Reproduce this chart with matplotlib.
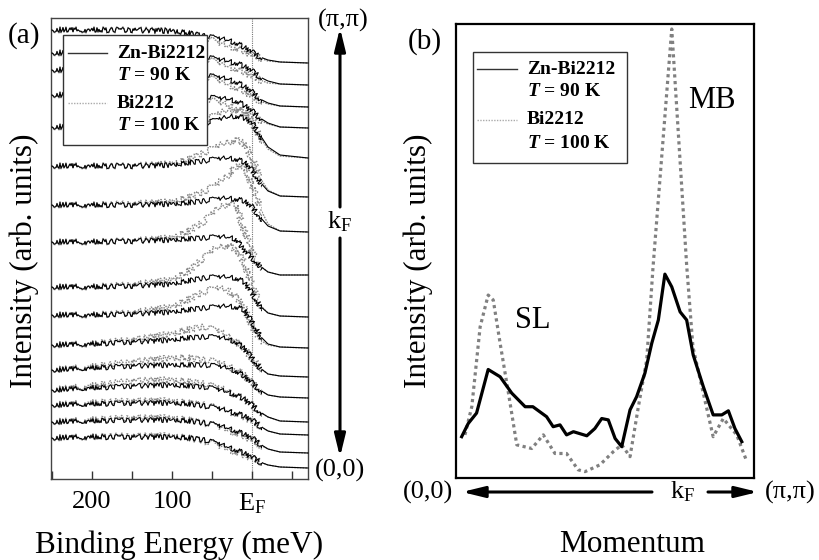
import matplotlib
matplotlib.use("Agg")
import matplotlib.pyplot as plt
from matplotlib.patches import Rectangle, FancyArrowPatch
import numpy as np

plt.rcParams['font.family'] = ['Liberation Serif', 'DejaVu Serif']
plt.rcParams['mathtext.fontset'] = 'custom'
plt.rcParams['mathtext.rm'] = 'Liberation Serif'
plt.rcParams['mathtext.it'] = 'Liberation Serif:italic:bold'
plt.rcParams['mathtext.bf'] = 'Liberation Serif:bold'

# ---------------- data: panel (a) EDCs ----------------
energy = [250, 200, 150, 100, 80, 60, 45, 30, 20, 10, 0, -10, -20, -35, -70]
edc_offsets = [416, 394, 372, 351, 321, 282, 247, 204, 162, 131, 102, 81, 57, 44, 26, 11]
edc_zn = [
    [33, 33, 33, 32, 30, 27, 25, 23, 20, 16, 11, 6, 3, 1, 0],
    [32, 32, 32, 31, 30, 28, 26, 24, 22, 19, 14, 8, 4, 1, 0],
    [37, 37, 36, 35, 34, 32, 30, 28, 25, 21, 15, 8, 4, 1, 0],
    [33, 33, 33, 33, 32, 31, 30, 29, 27, 23, 17, 10, 5, 1, 0],
    [31, 31, 31, 31, 32, 34, 38, 41, 42, 40, 35, 23, 11, 3, 0],
    [31, 31, 31, 32, 34, 36, 38, 39, 38, 35, 27, 15, 6, 1, 0],
    [27, 27, 27, 28, 29, 31, 33, 34, 33, 31, 25, 15, 6, 1, 0],
    [33, 33, 34, 35, 36, 37, 38, 38, 36, 25, 17, 9, 3, 0, 0],
    [30, 30, 31, 33, 36, 39, 40, 40, 39, 35, 24, 11, 4, 1, 0],
    [33, 33, 34, 36, 38, 40, 41, 42, 41, 38, 26, 12, 4, 1, 0],
    [32, 33, 35, 37, 39, 40, 40, 38, 35, 29, 19, 9, 3, 1, 0],
    [28, 30, 32, 33, 33, 33, 32, 30, 27, 22, 15, 8, 3, 1, 0],
    [32, 34, 36, 37, 36, 35, 33, 30, 27, 23, 17, 10, 5, 1, 0],
    [30, 31, 32, 32, 31, 29, 27, 24, 22, 19, 15, 9, 4, 1, 0],
    [31, 32, 33, 33, 32, 30, 28, 25, 22, 19, 15, 9, 4, 1, 0],
    [30, 31, 31, 31, 30, 28, 25, 21, 18, 15, 11, 6, 3, 1, 0],
]
edc_bi = [
    [33, 33, 33, 32, 29, 25, 21, 17, 15, 12, 8, 5, 2, 1, 0],
    [32, 32, 32, 31, 29, 26, 23, 19, 16, 13, 9, 5, 2, 1, 0],
    [37, 37, 36, 35, 33, 30, 27, 23, 19, 16, 11, 6, 3, 1, 0],
    [33, 33, 33, 33, 31, 29, 26, 23, 20, 17, 13, 8, 4, 1, 0],
    [31, 31, 31, 31, 33, 37, 43, 48, 48, 45, 36, 21, 9, 2, 0],
    [31, 31, 31, 33, 37, 44, 50, 55, 57, 54, 39, 19, 7, 1, 0],
    [27, 27, 28, 30, 34, 40, 47, 57, 65, 67, 47, 24, 8, 1, 0],
    [33, 33, 34, 37, 43, 53, 65, 72, 70, 45, 23, 9, 3, 0, 0],
    [30, 30, 32, 37, 45, 59, 69, 72, 67, 55, 32, 12, 4, 1, 0],
    [33, 33, 35, 41, 48, 56, 60, 58, 51, 41, 22, 8, 3, 1, 0],
    [32, 33, 37, 43, 47, 50, 47, 41, 35, 28, 19, 9, 3, 1, 0],
    [28, 31, 36, 40, 40, 38, 36, 32, 28, 23, 15, 8, 3, 1, 0],
    [32, 36, 41, 42, 40, 38, 35, 31, 27, 23, 17, 10, 5, 1, 0],
    [30, 32, 34, 34, 32, 30, 27, 24, 21, 18, 14, 9, 4, 1, 0],
    [31, 33, 35, 35, 33, 30, 27, 23, 20, 17, 13, 8, 4, 1, 0],
    [30, 31, 32, 32, 30, 27, 23, 19, 16, 13, 10, 6, 3, 1, 0],
]
be_ticks = [250, 200, 150, 100, 50, 0, -50]
be_ticklabels = ['', '200', '', '100', '', r'$\mathrm{E_F}$', '']

# ---------------- data: panel (b) MDCs ----------------
momentum_zn = [0.019, 0.041, 0.069, 0.108, 0.148, 0.187, 0.232, 0.258, 0.304, 0.326,
               0.349, 0.371, 0.394, 0.439, 0.466, 0.489, 0.511, 0.534, 0.556, 0.584,
               0.606, 0.634, 0.657, 0.679, 0.701, 0.724, 0.752, 0.774, 0.796, 0.830,
               0.863, 0.892, 0.914, 0.936, 0.959]
intensity_zn = [9.1, 12.0, 14.3, 23.9, 22.3, 18.7, 15.7, 15.7, 13.5, 11.3,
                11.7, 9.5, 10.2, 9.3, 10.9, 13.1, 12.8, 8.7, 6.9, 15.0,
                17.9, 23.1, 29.7, 34.8, 44.9, 42.1, 36.6, 34.8, 27.1, 20.1,
                13.9, 13.9, 14.8, 10.9, 8.0]
momentum_bi = [0.030, 0.053, 0.081, 0.108, 0.125, 0.148, 0.176, 0.204, 0.254, 0.293,
               0.332, 0.371, 0.410, 0.433, 0.483, 0.528, 0.556, 0.584, 0.612, 0.640,
               0.661, 0.724, 0.774, 0.795, 0.825, 0.863, 0.897, 0.942, 0.976]
intensity_bi = [9.5, 15.7, 33.3, 40.3, 39.2, 29.7, 18.7, 7.3, 6.5, 9.5,
                5.4, 5.4, 1.8, 1.4, 2.9, 5.8, 7.3, 4.7, 15.7, 26.0,
                46.3, 98.9, 46.9, 28.9, 20.1, 9.1, 13.1, 9.5, 3.6]

legend_labels = ['Zn-Bi2212', r'$T$ = 90 K', 'Bi2212', r'$T$ = 100 K']

# ---------------- figure ----------------
W, H = 820, 560
fig = plt.figure(figsize=(W / 100, H / 100), dpi=100)


def fx(x):
    return x / W


def fy(y):
    return 1 - y / H


def rect(x0, y0, x1, y1):
    return [fx(x0), fy(y1), fx(x1) - fx(x0), fy(y0) - fy(y1)]


GREY = '#8a8a8a'

# ----- panel (a) -----
axa = fig.add_axes(rect(51, 18, 308, 479))
axa.set_xlim(251.25, -70)
axa.set_ylim(0, 461)
axa.axvline(0, color='#777777', lw=0.8, ls=(0, (1, 1)), zorder=1)

E = np.array(energy)
for off, zn, bi in zip(edc_offsets, edc_zn, edc_bi):
    for vals, col, ls, lw, z, sk in ((bi, GREY, (0, (1.2, 0.8)), 1.0, 2, 3.2),
                                     (zn, 'black', '-', 0.8, 3, 2.5)):
        y = off + np.array(vals)
        for noisy in (True, False):
            ln, = axa.plot(E, y, color=col, ls=ls, lw=lw, zorder=z)
            if noisy:
                clip = Rectangle((-12, -20), 300, 520, transform=axa.transData)
                ln.set_sketch_params(scale=sk, length=0.6, randomness=40)
            else:
                clip = Rectangle((-90, -20), 78, 520, transform=axa.transData)
            ln.set_clip_path(clip)

axa.set_xticks(be_ticks)
axa.set_xticklabels(be_ticklabels)
axa.set_yticks([])
axa.tick_params(axis='x', direction='in', length=6, width=1, labelsize=19, pad=9,
                color='#333333')
for s in axa.spines.values():
    s.set_color('#444444')
    s.set_linewidth(1.0)

# ----- panel (b) -----
axb = fig.add_axes(rect(456, 24, 754, 478))
axb.set_xlim(0, 1)
axb.set_ylim(0, 100)
axb.plot(momentum_bi, intensity_bi, color='#808080', lw=2.3, ls=(0, (1, 1.1)),
         dash_capstyle='butt', zorder=2, clip_on=False)
axb.plot(momentum_zn, intensity_zn, color='black', lw=2.3, zorder=3,
         solid_joinstyle='round')
axb.set_xticks([])
axb.set_yticks([])
for s in axb.spines.values():
    s.set_color('black')
    s.set_linewidth(1.6)


# ----- legends (drawn manually) -----
def legend(x0, y0, x1, y1, line_x, text_x, rows):
    fig.patches.append(Rectangle((fx(x0), fy(y1)), fx(x1) - fx(x0), fy(y0) - fy(y1),
                                 transform=fig.transFigure, facecolor='white',
                                 edgecolor='#333333', lw=1.0, zorder=5))
    fig.lines.append(plt.Line2D([fx(line_x[0]), fx(line_x[1])], [fy(rows[0])] * 2,
                                transform=fig.transFigure, color='#333333', lw=1.0,
                                zorder=6))
    fig.lines.append(plt.Line2D([fx(line_x[0]), fx(line_x[1])], [fy(rows[2])] * 2,
                                transform=fig.transFigure, color='#aaaaaa', lw=1.0,
                                ls=(0, (1, 1)), zorder=6))
    for lab, ry in zip(legend_labels, rows):
        fig.text(fx(text_x), fy(ry), lab, fontsize=14, fontweight='bold',
                 ha='left', va='center', zorder=7)


legend(63, 35, 207, 145, (68, 107), 117, [53, 76, 103, 126])
legend(473, 52, 627, 163, (477, 517), 527, [69, 92, 120, 143])

# ----- texts -----
big = 22.5
fig.text(fx(24), fy(36), '(a)', fontsize=21, ha='center', va='center')
fig.text(fx(425), fy(42), '(b)', fontsize=21, ha='center', va='center')
fig.text(fx(24), fy(261), 'Intensity (arb. units)', fontsize=big, rotation=90,
         ha='center', va='center')
fig.text(fx(418), fy(261), 'Intensity (arb. units)', fontsize=big, rotation=90,
         ha='center', va='center')
fig.text(fx(179), fy(545), 'Binding Energy (meV)', fontsize=big, ha='center', va='center')
fig.text(fx(632), fy(545), 'Momentum', fontsize=big, ha='center', va='center')
fig.text(fx(712), fy(100), 'MB', fontsize=22, ha='center', va='center')
fig.text(fx(533), fy(320), 'SL', fontsize=22, ha='center', va='center')

fig.text(fx(343), fy(20), '(π,π)', fontsize=19, ha='center', va='center')
fig.text(fx(340), fy(470), '(0,0)', fontsize=19, ha='center', va='center')
fig.text(fx(340), fy(222), r'$\mathrm{k_F}$', fontsize=19, ha='center', va='center')
fig.text(fx(428), fy(492), '(0,0)', fontsize=19, ha='center', va='center')
fig.text(fx(683), fy(492), r'$\mathrm{k_F}$', fontsize=19, ha='center', va='center')
fig.text(fx(790), fy(492), '(π,π)', fontsize=19, ha='center', va='center')

# ----- arrows -----
ap = dict(arrowstyle='-|>,head_length=0.9,head_width=0.22', lw=2.2, color='black',
          shrinkA=0, shrinkB=0, mutation_scale=15)
for (xs, ys), (xe, ye) in [((340, 207), (340, 28)), ((340, 238), (340, 457)),
                           ((652, 492), (462, 492)), ((708, 492), (758, 492))]:
    fig.add_artist(FancyArrowPatch(
        (fx(xs), fy(ys)), (fx(xe), fy(ye)), transform=fig.transFigure, **ap))

fig.savefig('out.png', dpi=100)
